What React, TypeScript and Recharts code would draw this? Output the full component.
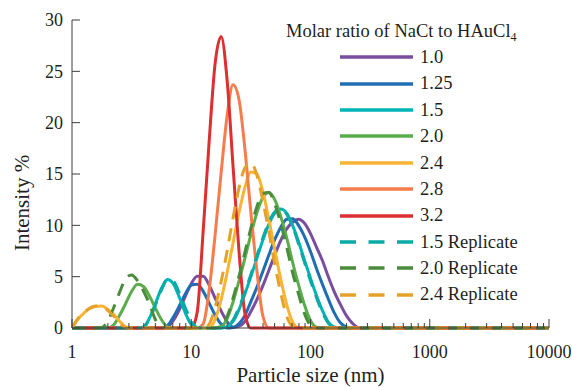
import { Legend, Line, LineChart, XAxis, YAxis } from "recharts"

const SERIF =
  "'Liberation Serif', 'Times New Roman', Times, Tinos, 'Noto Serif', 'DejaVu Serif', 'Nimbus Roman', FreeSerif, serif"
const INK = "#231f20"
const AXIS = "#3d3d3d"

// size classes of the DLS instrument (nm), log spaced, plus the upper limit
const sizes = [
  1, 1.12, 1.26, 1.41, 1.58, 1.78, 2.0, 2.24, 2.51, 2.82,
  3.16, 3.55, 3.98, 4.47, 5.01, 5.62, 6.31, 7.08, 7.94, 8.91,
  10, 11.2, 12.6, 14.1, 15.8, 17.8, 20.0, 22.4, 25.1, 28.2,
  31.6, 35.5, 39.8, 44.7, 50.1, 56.2, 63.1, 70.8, 79.4, 89.1,
  100, 112, 126, 141, 158, 178, 200, 224, 251, 282,
  316, 10000,
]

// intensity % per size class, one list per molar ratio
const ratio10 = [
  0, 0, 0, 0, 0, 0, 0, 0, 0, 0,
  0, 0, 0, 0, 0, 0, 0.1, 0.73, 1.77, 3.07,
  4.32, 5.05, 5.04, 4.2, 2.94, 1.67, 0.62, 0.08, 0.16, 0.64,
  1.6, 2.76, 4.1, 5.6, 7.1, 8.5, 9.65, 10.3, 10.6, 10.2,
  9.2, 7.9, 6.55, 5.0, 3.55, 2.3, 1.2, 0.48, 0.05, 0,
  0, 0,
]
const ratio125 = [
  0, 0, 0, 0, 0, 0, 0, 0, 0, 0,
  0, 0, 0, 0, 0, 0, 0.22, 1.07, 2.15, 3.3,
  4.18, 4.27, 3.57, 2.44, 1.3, 0.39, 0, 0.05, 0.4, 1.23,
  2.57, 3.96, 5.5, 7.1, 8.6, 9.8, 10.6, 10.65, 10.0, 8.9,
  7.45, 5.83, 4.25, 2.83, 1.5, 0.51, 0.1, 0, 0, 0,
  0, 0,
]
const ratio15 = [
  0, 0, 0, 0, 0, 0, 0, 0, 0, 0,
  0, 0, 0.09, 0.98, 2.38, 3.85, 4.72, 4.3, 3.0, 1.48,
  0.33, 0, 0, 0, 0, 0, 0.13, 0.64, 1.77, 3.34,
  4.99, 6.8, 8.55, 10.1, 11.2, 11.6, 11.2, 10.0, 8.4, 6.6,
  4.84, 3.2, 1.7, 0.57, 0.1, 0, 0, 0, 0, 0,
  0, 0,
]
const ratio20 = [
  0, 0, 0, 0, 0, 0, 0, 0.31, 1.24, 2.39,
  3.56, 4.26, 4.05, 3.1, 1.91, 0.83, 0.11, 0, 0, 0,
  0, 0, 0, 0, 0, 0.16, 0.92, 2.53, 4.55, 6.8,
  9.1, 11.2, 12.7, 13.2, 12.5, 10.9, 8.8, 6.4, 4.2, 2.24,
  0.73, 0.08, 0, 0, 0, 0, 0, 0, 0, 0,
  0, 0,
]
const ratio24 = [
  0, 0.85, 1.45, 1.9, 2.1, 2.15, 1.8, 1.3, 0.65, 0.1,
  0, 0, 0, 0, 0, 0, 0, 0, 0, 0,
  0, 0, 0, 0, 0.8, 2.75, 5.4, 8.25, 11.2, 13.7,
  15.2, 15.0, 13.3, 10.6, 7.65, 4.8, 2.3, 0.58, 0, 0,
  0, 0, 0, 0, 0, 0, 0, 0, 0, 0,
  0, 0,
]
const ratio28 = [
  0, 0, 0, 0, 0, 0, 0, 0, 0, 0,
  0, 0, 0, 0, 0, 0, 0, 0, 0, 0,
  0, 0, 0.4, 3.6, 8.9, 15.1, 20.7, 23.7, 22.3, 17.4,
  11.3, 5.6, 1.2, 0, 0, 0, 0, 0, 0, 0,
  0, 0, 0, 0, 0, 0, 0, 0, 0, 0,
  0, 0,
]
const ratio32 = [
  0, 0, 0, 0, 0, 0, 0, 0, 0, 0,
  0, 0, 0, 0, 0, 0, 0, 0, 0, 0,
  0, 1.5, 9.5, 18.0, 25.6, 28.4, 24.1, 15.8, 7.6, 1.4,
  0, 0, 0, 0, 0, 0, 0, 0, 0, 0,
  0, 0, 0, 0, 0, 0, 0, 0, 0, 0,
  0, 0,
]
const ratio15rep = [
  0, 0, 0, 0, 0, 0, 0, 0, 0, 0,
  0, 0, 0.1, 0.9, 2.25, 3.7, 4.7, 4.56, 3.4, 1.97,
  0.67, 0.05, 0, 0, 0, 0, 0.16, 0.77, 1.97, 3.5,
  5.2, 7.0, 8.75, 10.3, 11.3, 11.6, 11.1, 9.9, 8.2, 6.4,
  4.6, 3.0, 1.5, 0.48, 0.07, 0, 0, 0, 0, 0,
  0, 0,
]
const ratio20rep = [
  0, 0, 0, 0, 0, 0.05, 0.7, 2.0, 3.5, 4.8,
  5.17, 4.6, 3.6, 2.3, 0.8, 0.1, 0, 0, 0, 0,
  0, 0, 0, 0, 0, 0.2, 1.13, 2.9, 5.0, 7.4,
  9.7, 11.8, 13.1, 13.2, 12.1, 10.2, 7.9, 5.4, 3.3, 1.4,
  0.27, 0, 0, 0, 0, 0, 0, 0, 0, 0,
  0, 0,
]
const ratio24rep = [
  0, 0.9, 1.5, 1.95, 2.15, 2.1, 1.7, 1.15, 0.5, 0.05,
  0, 0, 0, 0, 0, 0, 0, 0, 0, 0,
  0, 0, 0, 0.36, 1.95, 4.5, 7.5, 10.7, 13.6, 15.6,
  16.1, 14.9, 12.4, 9.4, 6.25, 3.45, 1.17, 0.16, 0, 0,
  0, 0, 0, 0, 0, 0, 0, 0, 0, 0,
  0, 0,
]

const xTicks = [
  1, 2, 3, 4, 5, 6, 7, 8, 9,
  10, 20, 30, 40, 50, 60, 70, 80, 90,
  100, 200, 300, 400, 500, 600, 700, 800, 900,
  1000, 2000, 3000, 4000, 5000, 6000, 7000, 8000, 9000,
  10000,
]
const xLabels = [1, 10, 100, 1000, 10000]
const yTicks = [0, 5, 10, 15, 20, 25, 30]

const series = [
  { key: "r10", name: "1.0", values: ratio10, color: "#7b4d9f", dashed: false },
  { key: "r125", name: "1.25", values: ratio125, color: "#1f6db3", dashed: false },
  { key: "r15", name: "1.5", values: ratio15, color: "#00b3b7", dashed: false },
  { key: "r20", name: "2.0", values: ratio20, color: "#5aad4b", dashed: false },
  { key: "r24", name: "2.4", values: ratio24, color: "#f9b335", dashed: false },
  { key: "r28", name: "2.8", values: ratio28, color: "#f47d4b", dashed: false },
  { key: "r32", name: "3.2", values: ratio32, color: "#db2f30", dashed: false },
  { key: "r15rep", name: "1.5 Replicate", values: ratio15rep, color: "#0aaaa5", dashed: true },
  { key: "r20rep", name: "2.0 Replicate", values: ratio20rep, color: "#4b8b3c", dashed: true },
  { key: "r24rep", name: "2.4 Replicate", values: ratio24rep, color: "#e5a22b", dashed: true },
]

const rows = sizes.map((size, i) => {
  const row: Record<string, number> = { size }
  series.forEach((s) => {
    row[s.key] = s.values[i]
  })
  return row
})

// ticks point into the plot, only decades get a label
function XTick({ x, y, payload }: any) {
  const major = xLabels.includes(payload.value)
  return (
    <g>
      <line x1={x} x2={x} y1={y} y2={y - (major ? 9 : 5)} stroke={AXIS} strokeWidth={1} />
      {major && (
        <text x={x} y={y + 24} dy="0.35em" textAnchor="middle" style={{ fontFamily: SERIF }} fontSize={18} fill={INK}>
          {payload.value}
        </text>
      )}
    </g>
  )
}

function YTick({ x, y, payload }: any) {
  return (
    <g>
      <line x1={x} x2={x + 8} y1={y} y2={y} stroke={AXIS} strokeWidth={1} />
      <text x={x - 9} y={y} dy="0.35em" textAnchor="end" style={{ fontFamily: SERIF }} fontSize={18} fill={INK}>
        {payload.value}
      </text>
    </g>
  )
}

// legend keeps the series order of the figure, not the sorted payload
function LegendBox() {
  return (
    <div style={{ fontFamily: SERIF, fontSize: 18.5, color: INK }}>
      <div style={{ height: 26, lineHeight: "26px", whiteSpace: "nowrap" }}>
        Molar ratio of NaCt to HAuCl
        <sub style={{ fontSize: 12, lineHeight: 0, verticalAlign: -4 }}>4</sub>
      </div>
      {series.map((s) => (
        <div
          key={s.key}
          style={{ display: "flex", alignItems: "center", height: 26.4, paddingLeft: 54, whiteSpace: "nowrap" }}
        >
          <svg width={73} height={6} style={{ marginRight: 7, flex: "none" }}>
            <line
              x1={0}
              x2={73}
              y1={3}
              y2={3}
              stroke={s.color}
              strokeWidth={3.5}
              strokeDasharray={s.dashed ? "16 12.5" : undefined}
            />
          </svg>
          <span style={{ lineHeight: 1 }}>{s.name}</span>
        </div>
      ))}
    </div>
  )
}

export default function App() {
  return (
    <div
      style={{
        position: "absolute",
        left: 0,
        top: 0,
        width: 572,
        height: 387,
        background: "#fff",
        fontFamily: SERIF,
      }}
    >
      <LineChart
        width={572}
        height={387}
        data={rows}
        margin={{ top: 20, right: 23, bottom: 0, left: 0 }}
        style={{ fontFamily: SERIF }}
      >
        <XAxis
          dataKey="size"
          type="number"
          scale="log"
          domain={[1, 10000]}
          ticks={xTicks}
          interval={0}
          height={59}
          tickSize={0}
          tickMargin={0}
          tickLine={false}
          tick={<XTick />}
          stroke={AXIS}
          allowDataOverflow
          label={{
            value: "Particle size (nm)",
            position: "insideBottom",
            offset: 5,
            style: { fontFamily: SERIF, fontSize: 21, fill: INK },
          }}
        />
        <YAxis
          type="number"
          domain={[0, 30]}
          ticks={yTicks}
          interval={0}
          width={72}
          tickSize={0}
          tickMargin={0}
          tickLine={false}
          tick={<YTick />}
          stroke={AXIS}
          label={() => (
            <text
              x={22}
              y={203}
              transform="rotate(-90 22 203)"
              textAnchor="middle"
              dy="0.35em"
              style={{ fontFamily: SERIF }}
              fontSize={21}
              fill={INK}
            >
              Intensity %
            </text>
          )}
        />
        <Legend
          layout="vertical"
          align="center"
          verticalAlign="middle"
          wrapperStyle={{ left: 286, top: 18, width: 286 }}
          content={<LegendBox />}
        />
        {series.map((s) => (
          <Line
            key={s.key}
            dataKey={s.key}
            name={s.name}
            type="monotone"
            stroke={s.color}
            strokeWidth={3}
            strokeDasharray={s.dashed ? "13 9" : undefined}
            dot={false}
            activeDot={false}
            isAnimationActive={false}
          />
        ))}
      </LineChart>
    </div>
  )
}
